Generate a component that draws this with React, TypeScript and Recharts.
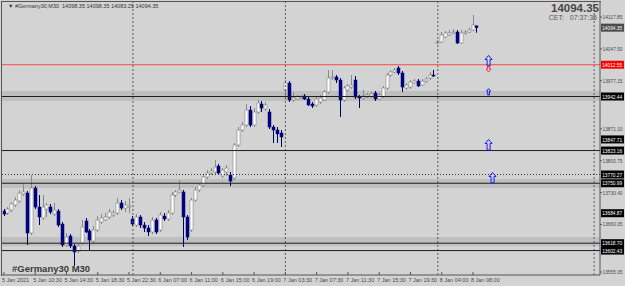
import { ComposedChart, Bar, XAxis, YAxis, ReferenceLine, ReferenceArea, ReferenceDot } from "recharts";

// M30 bars, 5 Jan 2021 -> 8 Jan 08:30
const openPrices = [
  13689.7, 13685.3, 13691.9, 13703.0, 13711.8, 13727.2, 13729.4, 13641.2, 13740.5, 13698.5,
  13674.3, 13694.1, 13698.5, 13683.1, 13689.7, 13661.0, 13614.7, 13634.5, 13612.5, 13601.4,
  13619.1, 13667.7, 13645.6, 13623.5, 13647.8, 13665.4, 13669.9, 13676.5, 13680.9, 13685.3,
  13707.4, 13696.3, 13698.5, 13672.1, 13658.8, 13676.5, 13658.8, 13652.2, 13643.4, 13669.9,
  13647.8, 13678.7, 13672.1, 13685.3, 13725.0, 13731.7, 13731.7, 13676.5, 13647.8, 13714.0,
  13736.1, 13747.1, 13764.8, 13773.6, 13775.8, 13789.0, 13767.0, 13775.8, 13769.2, 13762.6,
  13835.4, 13868.5, 13879.5, 13912.6, 13879.5, 13908.2, 13925.9, 13914.8, 13908.2, 13875.1,
  13868.5, 13861.9, 13956.8, 13972.2, 13934.7, 13936.9, 13939.1, 13943.5, 13936.9, 13925.9,
  13923.7, 13930.3, 13934.7, 13952.4, 13983.3, 13985.5, 13978.8, 13934.7, 13956.8, 13963.4,
  13978.8, 13941.3, 13939.1, 13941.3, 13943.5, 13950.1, 13936.9, 13941.3, 13961.2, 13989.9,
  13996.5, 14005.3, 13994.3, 13961.2, 13963.4, 13972.2, 13976.6, 13967.8, 13976.6, 13983.3,
  13989.9, 14060.5, 14062.7, 14073.7, 14078.2, 14082.6, 14084.8, 14060.5, 14082.6, 14084.8,
  14089.2, 14098.35,
];
const highPrices = [
  13694.1, 13698.5, 13709.6, 13720.6, 13736.1, 13751.5, 13733.9, 13769.2, 13744.9, 13725.0,
  13725.0, 13707.4, 13705.2, 13707.4, 13694.1, 13665.4, 13641.2, 13639.0, 13616.9, 13616.9,
  13669.9, 13674.3, 13650.0, 13656.6, 13678.7, 13683.1, 13685.3, 13694.1, 13691.9, 13718.4,
  13714.0, 13711.8, 13718.4, 13678.7, 13683.1, 13680.9, 13665.4, 13658.8, 13676.5, 13674.3,
  13687.5, 13685.3, 13691.9, 13731.7, 13736.1, 13758.1, 13736.1, 13680.9, 13718.4, 13742.7,
  13751.5, 13769.2, 13780.2, 13784.6, 13802.3, 13793.5, 13784.6, 13791.3, 13775.8, 13839.8,
  13875.1, 13886.2, 13925.9, 13921.5, 13917.0, 13934.7, 13932.5, 13930.3, 13914.8, 13879.5,
  13875.1, 13868.5, 13978.8, 13976.6, 13952.4, 13945.7, 13945.7, 13947.9, 13941.3, 13930.3,
  13941.3, 13945.7, 13956.8, 14000.9, 14000.9, 13989.9, 13983.3, 13965.6, 13970.0, 13989.9,
  13987.7, 13945.7, 13956.8, 13950.1, 13952.4, 13954.6, 13950.1, 13965.6, 13994.3, 14000.9,
  14005.3, 14009.7, 13998.7, 13972.2, 13978.8, 13981.1, 13981.1, 13981.1, 13985.5, 13996.5,
  14000.9, 14067.1, 14084.8, 14087.0, 14089.2, 14091.4, 14089.2, 14089.2, 14089.2, 14093.6,
  14122.3, 14098.35,
];
const lowPrices = [
  13678.7, 13680.9, 13687.5, 13698.5, 13707.4, 13722.8, 13614.7, 13636.8, 13694.1, 13658.8,
  13669.9, 13676.5, 13683.1, 13678.7, 13654.4, 13610.3, 13610.3, 13608.1, 13568.3, 13597.0,
  13614.7, 13641.2, 13603.7, 13619.1, 13643.4, 13661.0, 13667.7, 13672.1, 13676.5, 13680.9,
  13691.9, 13687.5, 13685.3, 13656.6, 13654.4, 13652.2, 13643.4, 13634.5, 13639.0, 13639.0,
  13643.4, 13667.7, 13667.7, 13680.9, 13720.6, 13729.4, 13610.3, 13625.7, 13643.4, 13709.6,
  13731.7, 13742.7, 13760.4, 13769.2, 13771.4, 13769.2, 13762.6, 13767.0, 13744.9, 13758.1,
  13831.0, 13864.1, 13875.1, 13875.1, 13875.1, 13903.8, 13908.2, 13910.4, 13870.7, 13839.8,
  13839.8, 13831.0, 13934.7, 13930.3, 13930.3, 13934.7, 13936.9, 13934.7, 13921.5, 13917.0,
  13919.3, 13925.9, 13932.5, 13947.9, 13978.8, 13972.2, 13897.2, 13930.3, 13952.4, 13959.0,
  13936.9, 13917.0, 13934.7, 13939.1, 13939.1, 13932.5, 13934.7, 13939.1, 13956.8, 13985.5,
  13994.3, 13989.9, 13952.4, 13956.8, 13959.0, 13970.0, 13963.4, 13965.6, 13972.2, 13978.8,
  13985.5, 14058.3, 14060.5, 14071.5, 14075.9, 14080.4, 14058.3, 14058.3, 14078.2, 14082.6,
  14087.0, 14083.25,
];
const closePrices = [
  13683.1, 13694.1, 13705.2, 13714.0, 13729.4, 13731.7, 13641.2, 13740.5, 13698.5, 13676.5,
  13698.5, 13703.0, 13687.5, 13691.9, 13658.8, 13614.7, 13632.3, 13612.5, 13599.2, 13612.5,
  13654.4, 13643.4, 13625.7, 13647.8, 13669.9, 13674.3, 13676.5, 13687.5, 13685.3, 13707.4,
  13696.3, 13703.0, 13700.8, 13661.0, 13676.5, 13658.8, 13652.2, 13643.4, 13669.9, 13643.4,
  13680.9, 13672.1, 13685.3, 13725.0, 13731.7, 13736.1, 13676.5, 13632.3, 13714.0, 13736.1,
  13747.1, 13764.8, 13773.6, 13778.0, 13786.8, 13773.6, 13780.2, 13784.6, 13755.9, 13835.4,
  13868.5, 13879.5, 13912.6, 13879.5, 13908.2, 13928.1, 13917.0, 13923.7, 13875.1, 13868.5,
  13859.7, 13853.1, 13972.2, 13934.7, 13939.1, 13941.3, 13941.3, 13936.9, 13923.7, 13921.5,
  13936.9, 13939.1, 13952.4, 13983.3, 13985.5, 13978.8, 13934.7, 13961.2, 13965.6, 13967.8,
  13941.3, 13939.1, 13943.5, 13945.7, 13947.9, 13936.9, 13945.7, 13961.2, 13989.9, 13996.5,
  14000.9, 13994.3, 13963.4, 13967.8, 13974.4, 13976.6, 13965.6, 13976.6, 13981.1, 13989.9,
  13987.7, 14062.7, 14078.2, 14082.6, 14082.6, 14084.8, 14060.5, 14082.6, 14084.8, 14089.2,
  14100.2, 14094.35,
];

const timeTickBars = [0, 8, 16, 24, 32, 40, 48, 56, 64, 72, 80, 88, 96, 104, 112, 120];
const timeTickLabels = [
  "5 Jan 2021", "5 Jan 10:30", "5 Jan 14:30", "5 Jan 18:30", "5 Jan 22:30", "6 Jan 07:00",
  "6 Jan 11:00", "6 Jan 15:00", "6 Jan 19:00", "7 Jan 03:30", "7 Jan 07:30", "7 Jan 11:30",
  "7 Jan 15:30", "7 Jan 19:30", "8 Jan 04:00", "8 Jan 08:00",
];

const priceTicks = [
  14117.85, 14083.2, 14047.5, 13977.15, 13906.8, 13871.1, 13836.45, 13800.75,
  13730.4, 13695.75, 13660.05, 13589.7, 13555.05,
];

// horizontal objects
const solidLines = [13942.44, 13823.16, 13750.99, 13618.7, 13602.43];
const dottedLines = [13770.27];
const redLine = 14012.55;
const blackTags = [13942.44, 13847.71, 13823.16, 13770.27, 13750.99, 13684.87, 13618.7, 13602.43];
const bidTag = 14094.35;
const zoneLows = [13932.5, 13740.5, 13612.5];
const zoneHighs = [13954.6, 13760.4, 13632.3];
const separatorBars = [33, 72, 111, 151];

// arrows to the right of the last bar
const arrowBars = [124, 124, 124, 124, 125];
const arrowPrices = [14020.8, 14003.1, 13952.4, 13835.4, 13762.6];
const arrowKinds = ["big", "redDown", "small", "big", "big"];

const SLOTS = 153;
const data = Array.from({ length: SLOTS }, (_, i) => ({
  i,
  open: openPrices[i],
  high: highPrices[i],
  low: lowPrices[i],
  close: closePrices[i],
}));

const BG = "#d3d3d3";
const FONT = "'Liberation Sans', Arial, sans-serif";

function Candle(props: any) {
  const { x, y, width, height, payload } = props;
  if (!payload || payload.open == null) return null;
  const { open, close, high, low } = payload;
  const h = Math.abs(height || 0);
  const top = height < 0 ? y + height : y;
  const span = high - low || 1;
  const py = (p: number) => top + ((high - p) / span) * h;
  const cx = Math.round(x + width / 2) + 0.5;
  const up = close >= open;
  const bTop = py(Math.max(open, close));
  const bBot = py(Math.min(open, close));
  return (
    <g>
      <line x1={cx} x2={cx} y1={top} y2={top + h} stroke={up ? "#8a8a8a" : "#000060"} strokeWidth={1} />
      <rect
        x={cx - 1.5}
        y={bTop}
        width={3}
        height={Math.max(bBot - bTop, 0.8)}
        fill={up ? "#ffffff" : "#000080"}
        stroke={up ? "#707070" : "#000080"}
        strokeWidth={0.5}
      />
    </g>
  );
}

function PriceTick({ x, y, payload }: any) {
  return (
    <g>
      <line x1={x} x2={x + 2} y1={y} y2={y} stroke="#555" />
      <text x={x + 2.5} y={y + 2} fontSize={5.3} fill="#4a4a4a" fontFamily={FONT} textLength={20} lengthAdjust="spacingAndGlyphs">
        {Number(payload.value).toFixed(2)}
      </text>
    </g>
  );
}

function TimeTick({ x, y, payload }: any) {
  const k = timeTickBars.indexOf(payload.value);
  if (k < 0) return <g />;
  return (
    <g>
      <line x1={x} x2={x} y1={y - 3} y2={y} stroke="#555" />
      <text x={x - 2} y={y + 7} fontSize={5.5} fill="#4a4a4a" fontFamily={FONT}>
        {timeTickLabels[k]}
      </text>
    </g>
  );
}

const tag = (value: number, bg: string) => (p: any) => {
  const vb = p.viewBox || {};
  const x0 = (vb.x || 0) + (vb.width || 0) + 1;
  return (
    <g>
      <rect x={x0} y={vb.y - 4} width={23} height={8} fill={bg} />
      <text x={x0 + 1.2} y={vb.y + 2.1} fontSize={5.3} fill="#ffffff" fontFamily={FONT} textLength={20} lengthAdjust="spacingAndGlyphs">
        {value.toFixed(2)}
      </text>
    </g>
  );
};

function Arrow({ cx, cy, kind }: any) {
  if (kind === "redDown") {
    return (
      <path
        d={`M${cx},${cy + 3} L${cx + 2.5},${cy} L${cx + 1},${cy} L${cx + 1},${cy - 3} L${cx - 1},${cy - 3} L${cx - 1},${cy} L${cx - 2.5},${cy} Z`}
        fill="none"
        stroke="#e03030"
        strokeWidth={0.9}
      />
    );
  }
  const s = kind === "small" ? 0.6 : 1;
  const p = (dx: number, dy: number) => `${cx + dx * s},${cy + dy * s}`;
  return (
    <path
      d={`M${p(0, -5.5)} L${p(3.5, -1.5)} L${p(1.5, -1.5)} L${p(1.5, 5)} L${p(-1.5, 5)} L${p(-1.5, -1.5)} L${p(-3.5, -1.5)} Z`}
      fill="none"
      stroke="#1a1aff"
      strokeWidth={1}
    />
  );
}

export default function App() {
  return (
    <div style={{ position: "fixed", left: 0, top: 0, width: 625, height: 286, background: BG, fontFamily: FONT }}>
      <ComposedChart
        width={625}
        height={286}
        data={data}
        margin={{ top: 2, right: 0, left: 2, bottom: 0 }}
        barCategoryGap={0}
      >
        <XAxis
          dataKey="i"
          type="category"
          interval={0}
          height={11}
          tickLine={false}
          tickSize={0}
          tickMargin={0}
          axisLine={{ stroke: "#555" }}
          tick={<TimeTick />}
        />
        <YAxis
          orientation="right"
          width={25}
          domain={[13548.5, 14151.0]}
          allowDataOverflow
          ticks={priceTicks}
          tickLine={false}
          tickSize={0}
          tickMargin={0}
          axisLine={{ stroke: "#555" }}
          tick={<PriceTick />}
        />
        {zoneLows.map((lo, k) => (
          <ReferenceArea key={"z" + k} y1={lo} y2={zoneHighs[k]} fill="#bfbfbf" fillOpacity={1} stroke="none" />
        ))}
        {separatorBars.map((b) => (
          <ReferenceLine key={"s" + b} x={b} stroke="#5a5a5a" strokeDasharray="2 2" />
        ))}
        {solidLines.map((v) => (
          <ReferenceLine key={"l" + v} y={v} stroke="#1e1e1e" strokeWidth={1} />
        ))}
        {dottedLines.map((v) => (
          <ReferenceLine key={"d" + v} y={v} stroke="#333" strokeDasharray="1 2" />
        ))}
        <ReferenceLine y={redLine} stroke="#ff4a4a" strokeWidth={1} label={tag(redLine, "#ff0000")} />
        {blackTags.map((v) => (
          <ReferenceLine key={"t" + v} y={v} stroke="none" label={tag(v, "#000000")} />
        ))}
        <ReferenceLine y={bidTag} stroke="none" label={tag(bidTag, "#4a4a4a")} />
        <Bar
          dataKey={(d: any) => (d.open == null ? null : [d.low, d.high])}
          barSize={3}
          isAnimationActive={false}
          shape={(p: any) => <Candle {...p} />}
        />
        {arrowBars.map((b, k) => (
          <ReferenceDot
            key={"a" + k}
            x={b}
            y={arrowPrices[k]}
            r={4}
            shape={(p: any) => <Arrow cx={p.cx} cy={p.cy} kind={arrowKinds[k]} />}
          />
        ))}
      </ComposedChart>
      <div style={{ position: "absolute", left: 1, top: 1, width: 599, height: 274, borderLeft: "1px solid #555", borderTop: "1px solid #555", pointerEvents: "none" }} />
      <div style={{ position: "absolute", left: 8, top: 3, fontSize: 5.5, color: "#333", whiteSpace: "pre" }}>
        {"▼ #Germany30,M30  14098.35 14098.35 14083.25 14094.35"}
      </div>
      <div style={{ position: "absolute", right: 26, top: 2, fontSize: 11.5, lineHeight: "13px", fontWeight: 700, color: "#474747" }}>14094.35</div>
      <div style={{ position: "absolute", right: 28, top: 14, fontSize: 7, lineHeight: "8px", color: "#5a5a5a", whiteSpace: "pre" }}>{"CET:   07:37:35"}</div>
      <div style={{ position: "absolute", left: 12, top: 263, fontSize: 9.5, lineHeight: "11px", fontWeight: 700, color: "#3a3a3a" }}>#Germany30 M30</div>
    </div>
  );
}
